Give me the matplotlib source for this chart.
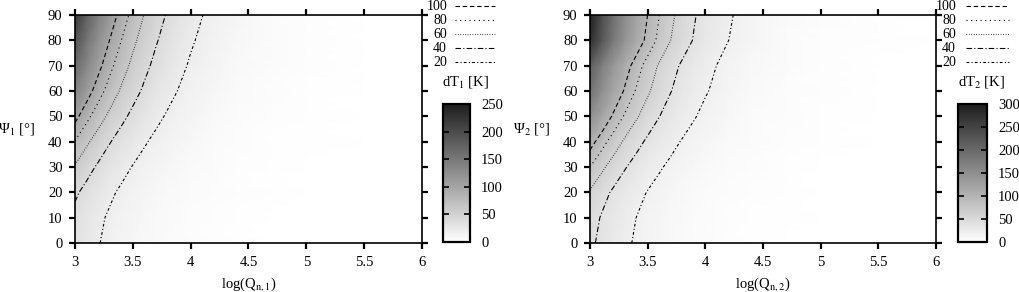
import matplotlib
matplotlib.use("Agg")
import numpy as np
import matplotlib.pyplot as plt
from matplotlib.colors import LinearSegmentedColormap
from matplotlib.lines import Line2D

plt.rcParams['font.family'] = ['Liberation Serif', 'DejaVu Serif']
plt.rcParams['mathtext.fontset'] = 'stix'

# ---------------- data ----------------
logq = [3.0, 3.1, 3.2, 3.3, 3.4, 3.5, 3.6, 3.7, 3.8, 3.9, 4.0, 4.2, 4.4, 4.7, 5.0, 5.5, 6.0]
psi = [0, 10, 20, 30, 40, 50, 60, 70, 80, 90]

# dT1 [K], rows = psi, columns = logq
dT1 = [
    [32, 25.7, 20.7, 16.6, 13.3, 10.7, 8.6, 6.9, 5.6, 4.5, 3.6, 2.3, 1.5, 0.8, 0.4, 0.13, 0.04],
    [35, 28.1, 22.6, 18.2, 14.6, 11.7, 9.4, 7.6, 6.1, 4.9, 3.9, 2.5, 1.6, 0.85, 0.44, 0.15, 0.05],
    [43, 34.6, 27.8, 22.3, 17.9, 14.4, 11.6, 9.3, 7.5, 6.0, 4.8, 3.1, 2.0, 1.0, 0.54, 0.18, 0.06],
    [58, 46.6, 37.5, 30.1, 24.2, 19.4, 15.6, 12.5, 10.1, 8.1, 6.5, 4.2, 2.7, 1.4, 0.73, 0.24, 0.08],
    [79, 63.5, 51.0, 41.0, 32.9, 26.5, 21.3, 17.1, 13.7, 11.1, 8.8, 5.7, 3.7, 1.9, 1.0, 0.33, 0.11],
    [107, 86.0, 69.1, 55.5, 44.6, 35.8, 28.8, 23.1, 18.6, 15.0, 12.0, 7.7, 5.0, 2.6, 1.35, 0.45, 0.15],
    [138, 111, 89.1, 71.6, 57.5, 46.2, 37.1, 29.8, 24.0, 19.3, 15.5, 10.0, 6.5, 3.3, 1.7, 0.58, 0.19],
    [165, 133, 107, 85.6, 68.8, 55.3, 44.4, 35.6, 28.7, 23.1, 18.5, 11.9, 7.7, 4.0, 2.1, 0.69, 0.23],
    [192, 154, 124, 99.6, 80.1, 64.3, 51.6, 41.5, 33.4, 26.9, 21.5, 13.9, 9.0, 4.6, 2.4, 0.81, 0.27],
    [220, 177, 142, 114, 91.7, 73.7, 59.2, 47.5, 38.3, 30.8, 24.6, 15.9, 10.3, 5.3, 2.8, 0.92, 0.31],
]

# dT2 [K]
dT2 = [
    [44, 35.4, 28.4, 22.8, 18.3, 14.7, 11.8, 9.5, 7.7, 6.2, 4.9, 3.2, 2.1, 1.1, 0.55, 0.18, 0.06],
    [48, 38.6, 31.0, 24.9, 20.0, 16.1, 12.9, 10.4, 8.4, 6.7, 5.4, 3.5, 2.2, 1.2, 0.6, 0.2, 0.07],
    [58, 46.6, 37.5, 30.1, 24.2, 19.4, 15.6, 12.5, 10.1, 8.1, 6.5, 4.2, 2.7, 1.4, 0.73, 0.24, 0.08],
    [80, 64.3, 51.7, 41.5, 33.4, 26.8, 21.5, 17.3, 13.9, 11.2, 9.0, 5.8, 3.7, 1.9, 1.0, 0.34, 0.11],
    [110, 88.4, 71.1, 57.1, 45.9, 36.9, 29.6, 23.8, 19.1, 15.4, 12.3, 8.0, 5.1, 2.7, 1.4, 0.46, 0.15],
    [150, 121, 96.9, 77.9, 62.6, 50.3, 40.4, 32.4, 26.1, 21.0, 16.8, 10.9, 7.0, 3.6, 1.9, 0.63, 0.21],
    [188, 151, 121, 97.6, 78.4, 63.0, 50.6, 40.6, 32.7, 26.3, 21.1, 13.6, 8.8, 4.5, 2.4, 0.79, 0.26],
    [215, 173, 139, 112, 89.7, 72.0, 57.8, 46.4, 37.4, 30.1, 24.1, 15.6, 10.1, 5.2, 2.7, 0.90, 0.30],
    [278, 224, 180, 144, 116, 93.1, 74.8, 60.0, 48.4, 38.9, 31.1, 20.1, 13.0, 6.7, 3.5, 1.2, 0.39],
    [298, 240, 193, 155, 124, 99.8, 80.2, 64.4, 51.9, 41.7, 33.4, 21.6, 13.9, 7.2, 3.8, 1.25, 0.42],
]

contour_levels = [20, 40, 60, 80, 100]
xtick_vals = [3, 3.5, 4, 4.5, 5, 5.5, 6]
xtick_labels = ['3', '3.5', '4', '4.5', '5', '5.5', '6']
ytick_vals = [0, 10, 20, 30, 40, 50, 60, 70, 80, 90]
cbar1_ticks = [0, 50, 100, 150, 200, 250]
cbar2_ticks = [0, 50, 100, 150, 200, 250, 300]

# ---------------- styling ----------------
W, H = 1019, 292
fig = plt.figure(figsize=(W / 100, H / 100), dpi=100)

cmap = LinearSegmentedColormap.from_list('g', ['#ffffff', '#1e1e1e'])
styles = {
    20: (0, (2.5, 2.0, 1.0, 2.0)),
    40: (0, (5.0, 2.0, 1.0, 2.0)),
    60: (0, (0.6, 1.6)),
    80: (0, (1.0, 3.2)),
    100: (0, (4.0, 2.5)),
}
FS = 10.5


def fx(px):
    return px / W


def fy(py):
    return 1 - py / H


def panel(ax_px, cb_px, Z, vmax, cticks, idx, leg_text_x, leg_line_x):
    x0, x1, y0, y1 = ax_px
    ax = fig.add_axes([fx(x0), fy(y1), fx(x1 - x0), (y1 - y0) / H])
    X, Y = np.meshgrid(logq, psi)
    Z = np.array(Z, dtype=float)
    mesh = ax.pcolormesh(X, Y, Z, shading='gouraud', cmap=cmap, vmin=0, vmax=vmax)
    ax.contour(X, Y, Z, levels=contour_levels, colors='k', linewidths=0.8,
               linestyles=[styles[l] for l in contour_levels])
    ax.set_xlim(3, 6)
    ax.set_ylim(0, 90)
    ax.set_xticks(xtick_vals)
    ax.set_xticklabels(xtick_labels)
    ax.set_yticks(ytick_vals)
    ax.tick_params(direction='out', length=4, width=1.6, top=True, right=True,
                   labelsize=FS, pad=5)
    for s in ax.spines.values():
        s.set_linewidth(1.2)
    # axis labels
    fig.text(fx((x0 + x1) / 2), fy(284), r'log(Q$_{\mathrm{n},%d}$)' % idx,
             ha='center', va='center', fontsize=FS)
    fig.text(fx(x0 - 40), fy(129), 'Ψ$_%d$ [°]' % idx, ha='right', va='center', fontsize=FS)

    # colorbar
    cx0, cx1, cy0, cy1 = cb_px
    cax = fig.add_axes([fx(cx0), fy(cy1), fx(cx1 - cx0), (cy1 - cy0) / H])
    cb = fig.colorbar(mesh, cax=cax, ticks=cticks)
    cb.outline.set_linewidth(1.6)
    cax.tick_params(direction='in', length=4, width=1.2, left=True, right=True,
                    labelleft=False, labelright=True, labelsize=FS, pad=8)
    fig.text(fx((cx0 + cx1) / 2 + 9), fy(82), 'dT$_%d$ [K]' % idx, ha='center', va='center', fontsize=FS)

    # contour key
    rows = [(100, 6), (80, 20), (60, 34), (40, 48), (20, 62)]
    for lev, py in rows:
        fig.text(fx(leg_text_x), fy(py), str(lev), ha='right', va='center', fontsize=FS - 0.5)
        fig.add_artist(Line2D([fx(leg_line_x[0]), fx(leg_line_x[1])], [fy(py), fy(py)],
                              color='k', lw=0.8, linestyle=styles[lev]))
    return ax


panel((75, 422, 15, 243), (443, 470, 104, 242), dT1, 250, cbar1_ticks, 1, 447, (455, 495))
panel((590, 936, 15, 243), (958, 987, 104, 242), dT2, 300, cbar2_ticks, 2, 956, (966, 1009))

fig.savefig('out.png', dpi=100)
